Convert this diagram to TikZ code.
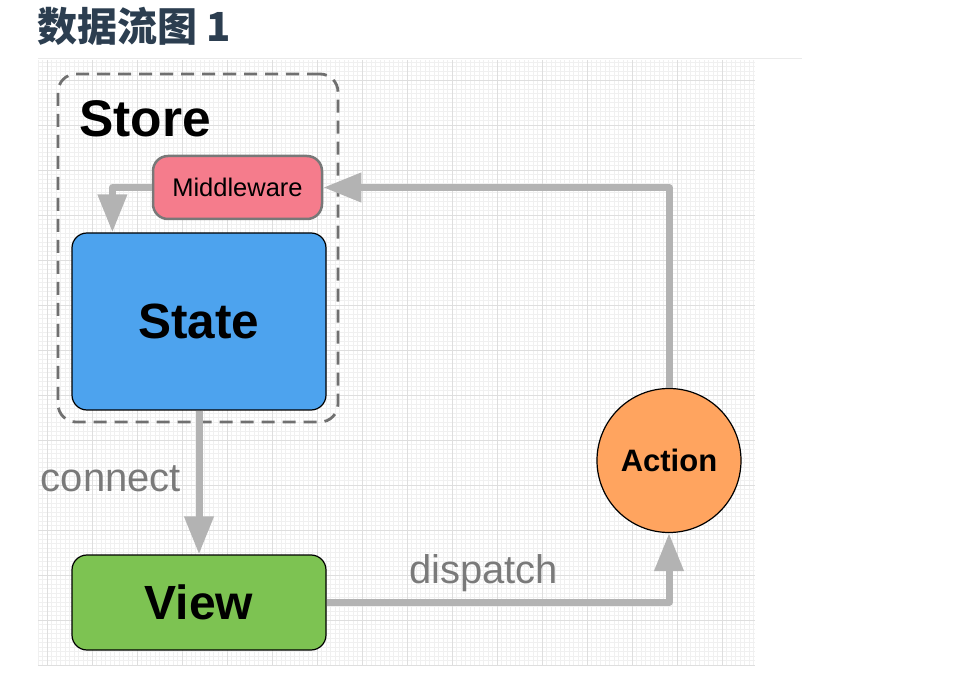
\documentclass[tikz,border=0pt]{standalone}
\usepackage{fontspec}
\setmainfont{Liberation Sans}
\newfontfamily\cjkfont{Noto Sans CJK SC}
\usetikzlibrary{arrows.meta}
\definecolor{gridminor}{RGB}{240,240,240}
\definecolor{gridmajor}{RGB}{222,222,222}
\definecolor{titlecolor}{RGB}{44,62,80}
\definecolor{titleline}{RGB}{234,234,234}
\definecolor{storegray}{RGB}{112,112,112}
\definecolor{mwpink}{RGB}{245,124,140}
\definecolor{mwborder}{RGB}{120,120,120}
\definecolor{stateblue}{RGB}{77,163,238}
\definecolor{viewgreen}{RGB}{125,195,82}
\definecolor{actionorange}{RGB}{255,164,95}
\definecolor{arrowgray}{RGB}{179,179,179}
\definecolor{labelgray}{RGB}{122,122,122}
\begin{document}
\begin{tikzpicture}[x=1pt,y=-1pt,
  flow/.style={draw=arrowgray, line width=7pt, line join=round, -{Triangle[length=38pt,width=28pt]}},
  box/.style={draw=black, line width=1.2pt, rounded corners=15pt, minimum width=254pt, inner sep=0pt},
  edgelabel/.style={text=labelgray, inner sep=0pt, font=\fontsize{40}{46}\selectfont},
  minorline/.style={draw=gridminor, line width=0.6pt},
  majorline/.style={draw=gridmajor, line width=0.8pt}]
\useasboundingbox (0,0) rectangle (970,676);
% grid
\foreach \i in {0,...,159} {\draw[minorline] ({38+4.5*\i},60) -- ({38+4.5*\i},665);}
\foreach \j in {0,...,134} {\draw[minorline] (38,{62+4.5*\j}) -- (755,{62+4.5*\j});}
\foreach \i in {0,...,15} {\draw[majorline] ({47+45*\i},60) -- ({47+45*\i},665);}
\foreach \j in {0,...,13} {\draw[majorline] (38,{80+45*\j}) -- (755,{80+45*\j});}
% title
\draw[titleline, line width=1.5pt] (38,58.5) -- (802,58.5);
\node[anchor=base west, inner sep=0pt, text=titlecolor, font=\cjkfont\bfseries\fontsize{40}{44}\selectfont] (title) at (37,42) {数据流图 1};
% store
\node[draw=storegray, dash pattern=on 13pt off 8pt, line width=2.8pt, rounded corners=18pt, minimum width=280pt, minimum height=348pt] (store) at (198,248) {};
\node[anchor=base west, inner sep=0pt, font=\fontsize{51.5}{60}\selectfont\bfseries] (storelabel) at (79,137) {Store};
\node[draw=mwborder, line width=2.5pt, fill=mwpink, rounded corners=15pt, minimum width=169pt, minimum height=63pt, inner sep=0pt, font=\fontsize{25.5}{30}\selectfont] (mw) at (237.5,187.5) {Middleware};
\node[box, fill=stateblue, minimum height=177pt, font=\fontsize{49.5}{56}\selectfont\bfseries] (state) at (199,321.5) {State};
\node[box, fill=viewgreen, minimum height=95pt, font=\fontsize{48}{56}\selectfont\bfseries] (view) at (199,602.5) {View};
\node[circle, draw=black, line width=1.2pt, fill=actionorange, minimum size=144pt, inner sep=0pt, font=\fontsize{31}{36}\selectfont\bfseries] (action) at (669,460.5) {Action};
% connectors
\draw[flow] (mw.west) -| ([xshift=41pt]state.north west);
\draw[flow] (action.north) |- (mw.east);
\draw[flow] (state.south) -- (view.north);
\draw[flow] (view.east) -| (action.south);
% labels
\node[edgelabel, anchor=base] (connect) at (111,491) {connect};
\node[edgelabel, anchor=base] (dispatch) at (483.5,583) {dispatch};
\end{tikzpicture}
\end{document}
